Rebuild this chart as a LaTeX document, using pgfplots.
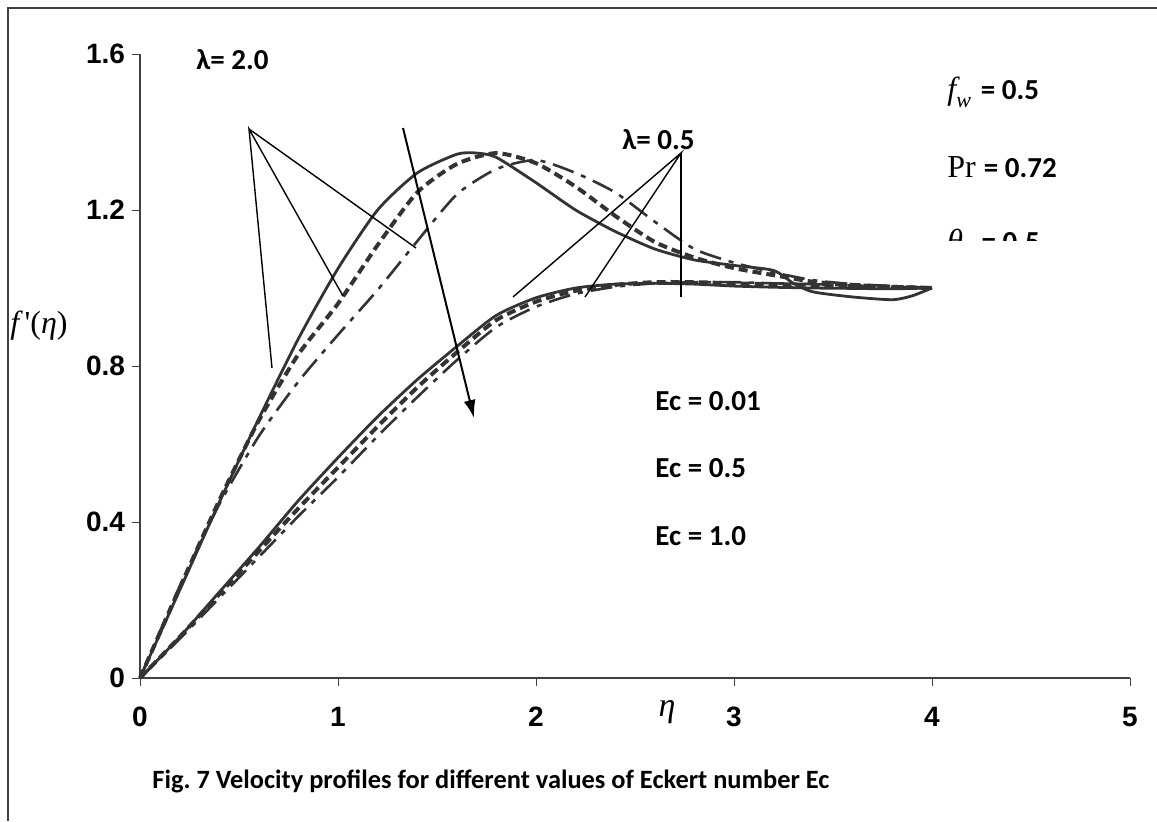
\documentclass[border=0pt]{standalone}
\usepackage{pgfplots}
\pgfplotsset{compat=1.18}
\usetikzlibrary{arrows.meta}
\usepackage{fontspec}
\setmainfont{Liberation Sans}
\newfontfamily\calb{Carlito}[BoldFont=* Bold]
\newfontfamily\tnr{Liberation Serif}
\frenchspacing

\definecolor{curve}{HTML}{333333}
\definecolor{frame}{HTML}{404040}

% lambda = 2.0
\pgfplotstableread{
x y
0 0
0.2 0.225
0.4 0.45
0.6 0.665
0.8 0.87
1.0 1.05
1.2 1.2
1.4 1.295
1.6 1.343
1.7 1.346
1.8 1.335
2.0 1.27
2.2 1.2
2.4 1.145
2.6 1.1
2.8 1.072
3.0 1.058
3.2 1.045
3.3 1.012
3.4 0.99
3.6 0.977
3.8 0.97
3.9 0.98
4.0 1.0
}\upA
\pgfplotstableread{
x y
0 0
0.2 0.23
0.4 0.455
0.6 0.66
0.8 0.83
1.0 0.96
1.2 1.11
1.4 1.245
1.6 1.318
1.8 1.346
2.0 1.32
2.2 1.26
2.4 1.185
2.6 1.118
2.8 1.078
3.0 1.051
3.2 1.033
3.4 1.016
3.6 1.008
3.8 1.003
4.0 1.0
}\upB
\pgfplotstableread{
x y
0 0
0.2 0.235
0.4 0.445
0.6 0.62
0.8 0.76
1.0 0.88
1.2 0.995
1.4 1.12
1.6 1.24
1.8 1.305
2.0 1.328
2.2 1.295
2.4 1.245
2.6 1.17
2.8 1.1
3.0 1.065
3.2 1.04
3.4 1.02
3.6 1.01
3.8 1.005
4.0 1.0
}\upC
% lambda = 0.5
\pgfplotstableread{
x y
0 0
0.2 0.105
0.4 0.22
0.6 0.335
0.8 0.455
1.0 0.565
1.2 0.67
1.4 0.765
1.6 0.85
1.8 0.93
2.0 0.975
2.2 1.0
2.4 1.01
2.6 1.012
2.8 1.01
3.0 1.005
3.2 1.002
3.4 1.0
3.6 0.999
3.8 0.998
4.0 1.0
}\loA
\pgfplotstableread{
x y
0 0
0.2 0.105
0.4 0.215
0.6 0.325
0.8 0.435
1.0 0.54
1.2 0.645
1.4 0.745
1.6 0.835
1.8 0.918
2.0 0.965
2.2 0.993
2.4 1.008
2.6 1.015
2.8 1.015
3.0 1.012
3.2 1.01
3.4 1.008
3.6 1.005
3.8 1.003
4.0 1.0
}\loB
\pgfplotstableread{
x y
0 0
0.2 0.1
0.4 0.205
0.6 0.31
0.8 0.415
1.0 0.515
1.2 0.62
1.4 0.72
1.6 0.815
1.8 0.9
2.0 0.952
2.2 0.985
2.4 1.003
2.6 1.012
2.8 1.015
3.0 1.015
3.2 1.012
3.4 1.01
3.6 1.006
3.8 1.003
4.0 1.0
}\loC

\newcommand\lab{\calb\bfseries\fontsize{14.5}{17}\selectfont}
\newcommand\ser{\tnr\fontsize{16}{18}\selectfont}

\begin{document}
\begin{tikzpicture}
\useasboundingbox (0,0) rectangle (578.5pt,-410.5pt);
\begin{axis}[
  at={(70pt,-339pt)}, anchor=south west,
  scale only axis, width=495pt, height=312pt,
  xmin=0, xmax=5, ymin=0, ymax=1.6,
  axis x line*=bottom, axis y line*=left,
  axis line style={draw=frame, line width=0.6pt},
  tick align=outside, major tick length=4pt,
  tick style={draw=frame, line width=0.5pt},
  xtick={0,1,2,3,4,5},
  ytick={0,0.4,0.8,1.2,1.6},
  yticklabels={0,0.4,0.8,1.2,1.6},
  xticklabels={0,1,2,3,4,5},
  ticklabel style={font=\fontsize{14}{16}\selectfont\bfseries},
  xticklabel style={yshift=-7pt},
  yticklabel style={xshift=0pt},
  clip=false,
  every axis plot/.append style={smooth, tension=0.4},
]
\addplot[curve, line width=1.4pt] table {\upA};
\addplot[curve, line width=2pt, dash pattern=on 4.5pt off 2.5pt] table {\upB};
\addplot[curve, line width=1.3pt, dash pattern=on 11pt off 4pt on 2.5pt off 4pt] table {\upC};
\addplot[curve, line width=1.4pt] table {\loA};
\addplot[curve, line width=2pt, dash pattern=on 4.5pt off 2.5pt] table {\loB};
\addplot[curve, line width=1.3pt, dash pattern=on 11pt off 4pt on 2.5pt off 4pt] table {\loC};
\end{axis}

\begin{scope}[x=0.5pt, y=-0.5pt]
  % outer frame
  \draw[frame, line width=1pt] (8,821) -- (8,8) -- (1157,8);
  % pointer lines, lambda = 2.0
  \draw[black, line width=0.7pt] (272,368) -- (249,129) -- (343,296);
  \draw[black, line width=0.7pt] (249,129) -- (416,248);
  % pointer lines, lambda = 0.5
  \draw[black, line width=0.7pt] (513,297) -- (681,153) -- (585,297);
  \draw[black, line width=0.7pt] (681,153) -- (681,297);
  % increasing Ec
  \draw[black, line width=1pt, -{Latex[length=9pt,width=6pt]}] (403,128) -- (474,418);

  \node[anchor=west, inner sep=0pt] at (196,60) {\lab λ= 2.0};
  \node[anchor=west, inner sep=0pt] at (622,140) {\lab λ= 0.5};

  \node[anchor=west, inner sep=0pt] at (655,401) {\lab Ec = 0.01};
  \node[anchor=west, inner sep=0pt] at (655,468) {\lab Ec = 0.5};
  \node[anchor=west, inner sep=0pt] at (655,536) {\lab Ec = 1.0};

  \node[anchor=west, inner sep=0pt] at (947,92) {\ser\itshape f\raisebox{-4pt}{\fontsize{11}{12}\selectfont w}\upshape\hspace{5pt}\lab = 0.5};
  \node[anchor=west, inner sep=0pt] at (947,167) {\ser Pr\hspace{4pt}\lab = 0.72};
  \begin{scope}
    \clip (930,200) rectangle (1150,240);
    \node[anchor=west, inner sep=0pt] at (947,244) {\ser\itshape θ\raisebox{-4pt}{\fontsize{11}{12}\selectfont r}\upshape\hspace{5pt}\lab = 0.5};
  \end{scope}

  \node[anchor=west, inner sep=0pt] at (10,326) {\ser\itshape f\upshape\,'(\itshape η\upshape)};
  \node[inner sep=0pt] at (667,712) {\tnr\fontsize{17}{19}\selectfont\itshape η};

  \node[anchor=west, inner sep=0pt] at (152,781) {\calb\bfseries\fontsize{13.2}{15}\selectfont Fig. 7 Velocity profiles for different values of Eckert number Ec};
\end{scope}
\end{tikzpicture}
\end{document}
